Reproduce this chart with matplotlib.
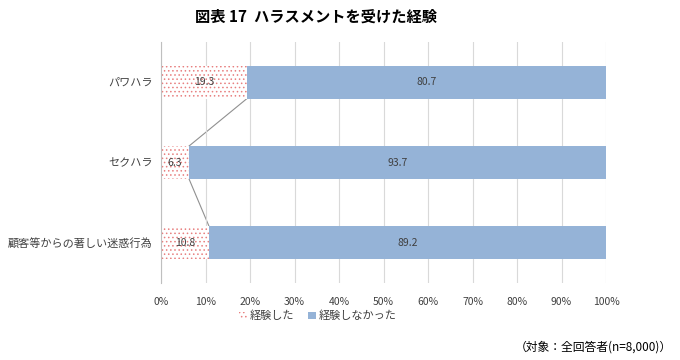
import matplotlib
matplotlib.use("Agg")
import matplotlib.pyplot as plt
import numpy as np

plt.rcParams['font.family'] = ['Noto Sans CJK JP', 'DejaVu Sans']
plt.rcParams['hatch.linewidth'] = 0.6

categories = ["パワハラ", "セクハラ", "顧客等からの著しい迷惑行為"]
experienced = [19.3, 6.3, 10.8]
not_experienced = [80.7, 93.7, 89.2]
series_names = ["経験した", "経験しなかった"]
xticks = [0, 10, 20, 30, 40, 50, 60, 70, 80, 90, 100]

fig = plt.figure(figsize=(6.8, 3.6), dpi=100)
ax = fig.add_axes([161 / 680, 1 - 283 / 360, 445 / 680, 241 / 360])

y = np.arange(len(categories))
h = 0.41
text_color = '#404040'

ax.barh(y, experienced, height=h, color='white', edgecolor='#E88080',
        linewidth=0, hatch='....', label=series_names[0], zorder=2)
ax.barh(y, not_experienced, left=experienced, height=h, color='#95B3D7',
        linewidth=0, label=series_names[1], zorder=2)

# series lines between the bars
for i in range(len(categories) - 1):
    ax.plot([experienced[i], experienced[i + 1]], [y[i] + h / 2, y[i + 1] - h / 2],
            color='#909090', linewidth=0.8, zorder=1)

for i in range(len(categories)):
    ax.text(experienced[i] / 2, y[i], f"{experienced[i]:.1f}", ha='center', va='center',
            fontsize=7.5, color=text_color, zorder=3)
    ax.text(experienced[i] + not_experienced[i] / 2, y[i], f"{not_experienced[i]:.1f}",
            ha='center', va='center', fontsize=7.5, color=text_color, zorder=3)

ax.set_xlim(0, 100)
ax.set_ylim(2.5, -0.5)
ax.set_xticks(xticks)
ax.set_xticklabels([f"{t}%" for t in xticks], fontsize=7.5, color=text_color)
ax.set_yticks(y)
ax.set_yticklabels(categories, fontsize=8, color=text_color)
ax.tick_params(axis='both', length=0, pad=6)
ax.tick_params(axis='x', pad=10)
ax.grid(axis='x', color='#D9D9D9', linewidth=0.8, zorder=0)
for s in ['top', 'right', 'bottom']:
    ax.spines[s].set_visible(False)
ax.spines['left'].set_color('#BFBFBF')
ax.spines['left'].set_linewidth(0.8)

fig.text(316 / 680, 1 - 17 / 360, "図表 17  ハラスメントを受けた経験", ha='center', va='center',
         fontsize=11, fontweight='bold', color='black')

leg = fig.legend(loc='center', bbox_to_anchor=(318 / 680, 1 - 316 / 360), ncol=2,
                 frameon=False, fontsize=8, handlelength=0.7, handleheight=0.7,
                 handletextpad=0.3, columnspacing=1.2)
for t in leg.get_texts():
    t.set_color(text_color)

fig.text(672 / 680, 1 - 347 / 360, "（対象：全回答者(n=8,000)）", ha='right', va='center',
         fontsize=8.5, color='black')

fig.savefig("out.png", dpi=100)
